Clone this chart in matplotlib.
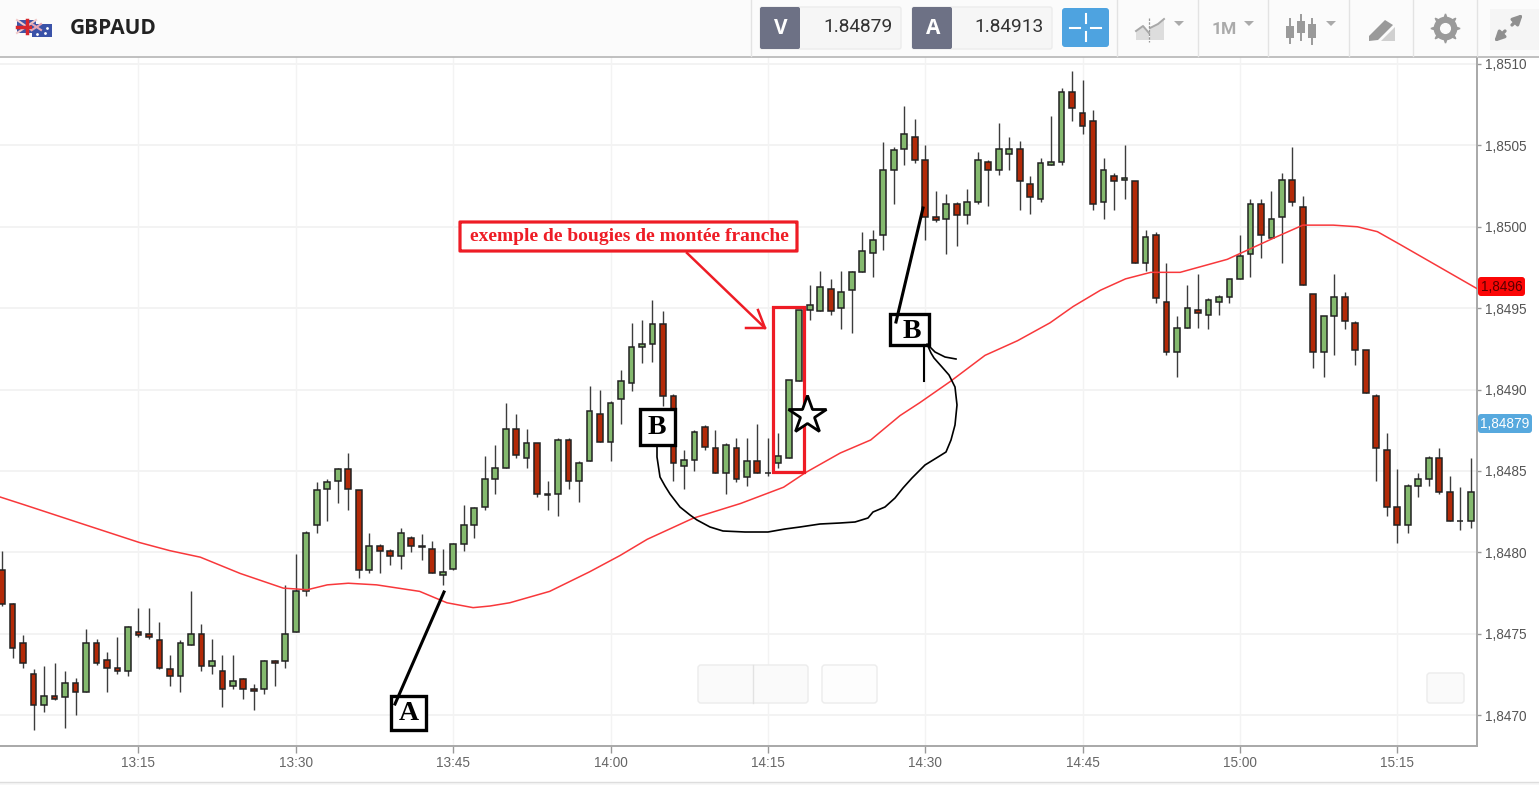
import matplotlib
matplotlib.use("Agg")
import matplotlib.pyplot as plt
from matplotlib.patches import Rectangle, FancyBboxPatch, Polygon

# one candle per minute, first one is 13:02
start_minute = 13 * 60 + 2

opens = [
    1.84789, 1.84768, 1.84744, 1.84725, 1.84706, 1.84712, 1.84711, 1.84720, 1.84714, 1.84744,
    1.84734, 1.84729, 1.84727, 1.84751, 1.84750, 1.84746, 1.84728, 1.84724, 1.84743, 1.84750,
    1.84730, 1.84727, 1.84718, 1.84722, 1.84716, 1.84716, 1.84733, 1.84733, 1.84751, 1.84776,
    1.84817, 1.84839, 1.84844, 1.84851, 1.84838, 1.84789, 1.84804, 1.84801, 1.84798, 1.84809,
    1.84804, 1.84802, 1.84786, 1.84790, 1.84805, 1.84817, 1.84828, 1.84845, 1.84852, 1.84876,
    1.84858, 1.84867, 1.84835, 1.84836, 1.84869, 1.84844, 1.84856, 1.84885, 1.84868, 1.84894,
    1.84904, 1.84926, 1.84928, 1.84940, 1.84896, 1.84853, 1.84857, 1.84877, 1.84864, 1.84849,
    1.84864, 1.84846, 1.84856, 1.84849, 1.84855, 1.84858, 1.84905, 1.84949, 1.84948, 1.84962,
    1.84950, 1.84961, 1.84972, 1.84984, 1.84995, 1.85035, 1.85048, 1.85055, 1.85041, 1.85006,
    1.85005, 1.85014, 1.85007, 1.85015, 1.85040, 1.85035, 1.85045, 1.85048, 1.85026, 1.85017,
    1.85038, 1.85040, 1.85083, 1.85070, 1.85065, 1.85015, 1.85031, 1.85029, 1.85028, 1.84978,
    1.84995, 1.84954, 1.84923, 1.84938, 1.84949, 1.84946, 1.84954, 1.84957, 1.84968, 1.84983,
    1.85014, 1.84993, 1.85006, 1.85029, 1.85012, 1.84959, 1.84923, 1.84945, 1.84957, 1.84941,
    1.84924, 1.84896, 1.84863, 1.84828, 1.84817, 1.84841, 1.84845, 1.84858, 1.84837, 1.84819,
    1.84819,
]
highs = [
    1.84801, 1.84769, 1.84749, 1.84728, 1.84730, 1.84732, 1.84727, 1.84723, 1.84753, 1.84747,
    1.84739, 1.84748, 1.84755, 1.84766, 1.84766, 1.84757, 1.84737, 1.84746, 1.84776, 1.84756,
    1.84747, 1.84737, 1.84737, 1.84723, 1.84719, 1.84734, 1.84734, 1.84780, 1.84799, 1.84813,
    1.84843, 1.84845, 1.84852, 1.84861, 1.84838, 1.84812, 1.84805, 1.84802, 1.84815, 1.84810,
    1.84811, 1.84807, 1.84802, 1.84806, 1.84829, 1.84828, 1.84859, 1.84866, 1.84892, 1.84885,
    1.84876, 1.84867, 1.84844, 1.84870, 1.84870, 1.84856, 1.84902, 1.84900, 1.84893, 1.84912,
    1.84941, 1.84943, 1.84955, 1.84948, 1.84897, 1.84863, 1.84875, 1.84878, 1.84875, 1.84867,
    1.84870, 1.84870, 1.84879, 1.84870, 1.84873, 1.84906, 1.84949, 1.84964, 1.84973, 1.84968,
    1.84973, 1.84973, 1.84997, 1.84998, 1.85052, 1.85049, 1.85074, 1.85066, 1.85050, 1.85022,
    1.85020, 1.85015, 1.85023, 1.85046, 1.85041, 1.85064, 1.85055, 1.85053, 1.85031, 1.85042,
    1.85068, 1.85085, 1.85096, 1.85090, 1.85072, 1.85042, 1.85033, 1.85050, 1.85028, 1.84998,
    1.84997, 1.84978, 1.84945, 1.84964, 1.84971, 1.84956, 1.84958, 1.84968, 1.84995, 1.85017,
    1.85017, 1.85022, 1.85033, 1.85049, 1.85019, 1.84959, 1.84945, 1.84971, 1.84960, 1.84942,
    1.84924, 1.84897, 1.84873, 1.84851, 1.84842, 1.84849, 1.84859, 1.84864, 1.84847, 1.84840,
    1.84858,
]
lows = [
    1.84767, 1.84735, 1.84729, 1.84691, 1.84702, 1.84709, 1.84692, 1.84700, 1.84714, 1.84731,
    1.84714, 1.84725, 1.84724, 1.84748, 1.84747, 1.84728, 1.84718, 1.84714, 1.84743, 1.84727,
    1.84725, 1.84705, 1.84716, 1.84710, 1.84703, 1.84713, 1.84718, 1.84729, 1.84751, 1.84773,
    1.84812, 1.84819, 1.84830, 1.84826, 1.84784, 1.84787, 1.84787, 1.84792, 1.84790, 1.84800,
    1.84795, 1.84787, 1.84780, 1.84789, 1.84801, 1.84809, 1.84826, 1.84836, 1.84852, 1.84858,
    1.84852, 1.84834, 1.84826, 1.84822, 1.84839, 1.84831, 1.84856, 1.84868, 1.84856, 1.84879,
    1.84899, 1.84916, 1.84917, 1.84890, 1.84844, 1.84839, 1.84850, 1.84863, 1.84849, 1.84836,
    1.84843, 1.84841, 1.84849, 1.84847, 1.84852, 1.84858, 1.84905, 1.84943, 1.84948, 1.84946,
    1.84937, 1.84935, 1.84972, 1.84969, 1.84986, 1.85014, 1.85038, 1.85039, 1.84992, 1.85003,
    1.84983, 1.84988, 1.85002, 1.85014, 1.85013, 1.85032, 1.85035, 1.85010, 1.85008, 1.85015,
    1.85038, 1.85038, 1.85065, 1.85057, 1.85010, 1.85005, 1.85010, 1.85017, 1.84978, 1.84973,
    1.84953, 1.84921, 1.84908, 1.84938, 1.84938, 1.84937, 1.84946, 1.84953, 1.84968, 1.84969,
    1.84981, 1.84993, 1.84978, 1.85013, 1.84964, 1.84913, 1.84908, 1.84921, 1.84937, 1.84915,
    1.84898, 1.84844, 1.84822, 1.84806, 1.84812, 1.84834, 1.84841, 1.84836, 1.84819, 1.84814,
    1.84815,
]
closes = [
    1.84768, 1.84741, 1.84732, 1.84706, 1.84712, 1.84710, 1.84720, 1.84714, 1.84744, 1.84732,
    1.84729, 1.84727, 1.84754, 1.84749, 1.84748, 1.84729, 1.84724, 1.84744, 1.84750, 1.84730,
    1.84733, 1.84716, 1.84721, 1.84716, 1.84715, 1.84733, 1.84732, 1.84750, 1.84776, 1.84812,
    1.84838, 1.84843, 1.84851, 1.84839, 1.84789, 1.84804, 1.84801, 1.84798, 1.84812, 1.84804,
    1.84803, 1.84787, 1.84788, 1.84805, 1.84817, 1.84827, 1.84845, 1.84852, 1.84876, 1.84860,
    1.84867, 1.84836, 1.84836, 1.84869, 1.84844, 1.84855, 1.84887, 1.84868, 1.84892, 1.84905,
    1.84926, 1.84928, 1.84940, 1.84896, 1.84855, 1.84857, 1.84874, 1.84865, 1.84849, 1.84866,
    1.84845, 1.84856, 1.84849, 1.84849, 1.84859, 1.84906, 1.84949, 1.84952, 1.84963, 1.84948,
    1.84960, 1.84972, 1.84985, 1.84992, 1.85035, 1.85047, 1.85057, 1.85041, 1.85006, 1.85004,
    1.85014, 1.85007, 1.85015, 1.85041, 1.85035, 1.85048, 1.85048, 1.85028, 1.85018, 1.85039,
    1.85040, 1.85083, 1.85073, 1.85062, 1.85014, 1.85035, 1.85028, 1.85030, 1.84978, 1.84994,
    1.84956, 1.84923, 1.84938, 1.84950, 1.84947, 1.84955, 1.84957, 1.84968, 1.84982, 1.85014,
    1.84995, 1.85005, 1.85029, 1.85015, 1.84964, 1.84923, 1.84945, 1.84957, 1.84942, 1.84924,
    1.84898, 1.84864, 1.84828, 1.84817, 1.84841, 1.84845, 1.84858, 1.84837, 1.84819, 1.84819,
    1.84837,
]

# moving average, read at its bends
ma_minutes = [
    781.8, 784.2, 789.4, 795.1, 798.0, 800.9, 804.7, 808.8, 811.1, 813.0, 815.0, 817.7, 821.8, 824.4,
    826.9, 828.5, 830.4, 834.2, 838.0, 840.9, 843.5, 847.9, 852.4, 856.5, 858.6, 861.9, 864.8, 867.6,
    869.5, 872.4, 875.7, 878.8, 881.9, 884.1, 886.7, 889.1, 891.5, 894.3, 898.8, 903.2, 906.0, 908.9,
    911.2, 913.1, 915.3, 922.6,
]
ma_values = [
    1.84834, 1.84829, 1.84818, 1.84806, 1.84801, 1.84797, 1.84787, 1.84778, 1.84777, 1.84780, 1.84781,
    1.84780, 1.84776, 1.84769, 1.84766, 1.84767, 1.84769, 1.84776, 1.84788, 1.84798, 1.84808, 1.84821,
    1.84830, 1.84840, 1.84849, 1.84861, 1.84869, 1.84884, 1.84892, 1.84905, 1.84921, 1.84930, 1.84941,
    1.84951, 1.84961, 1.84968, 1.84972, 1.84972, 1.84980, 1.84993, 1.85001, 1.85001, 1.85000, 1.84997,
    1.84989, 1.84962,
]

price_ticks = [1.8470, 1.8475, 1.8480, 1.8485, 1.8490, 1.8495, 1.8500, 1.8505, 1.8510]
time_ticks = [795, 810, 825, 840, 855, 870, 885, 900, 915]
time_labels = ["13:15", "13:30", "13:45", "14:00", "14:15", "14:30", "14:45", "15:00", "15:15"]

UP = "#84b96e"
DOWN = "#b32a08"
EDGE = "#222222"
W, H = 1539, 785

plt.rcParams["font.family"] = ["Liberation Sans", "DejaVu Sans"]
fig = plt.figure(figsize=(W / 100, H / 100), dpi=100, facecolor="white")

ax = fig.add_axes([0, (H - 746) / H, 1477 / W, (746 - 57) / H])
ax.set_xlim(781.8, 922.6)
ax.set_ylim(1.84681, 1.851043)

minutes = [start_minute + i for i in range(len(opens))]
ax.vlines(minutes, lows, highs, color="#3c3c3c", lw=1.0, zorder=2)
for m, o, c in zip(minutes, opens, closes):
    col = UP if c >= o else DOWN
    ax.bar(m, abs(c - o), bottom=min(o, c), width=0.55, color=col, edgecolor=EDGE, linewidth=1.1, zorder=3)
ax.plot(ma_minutes, ma_values, color="#f8383b", lw=1.1, zorder=4)

ax.set_yticks(price_ticks)
ax.set_yticklabels([("%.4f" % p).replace(".", ",") for p in price_ticks])
ax.set_xticks(time_ticks)
ax.set_xticklabels(time_labels)
ax.yaxis.tick_right()
ax.tick_params(axis="y", length=3, width=1, color="#999999", labelcolor="#555555", labelsize=9.8, pad=3)
ax.tick_params(axis="x", length=5, width=1, color="#999999", labelcolor="#666666", labelsize=9.8, pad=2)
ax.grid(axis="y", color="#f3f3f3", lw=1.4)
ax.grid(axis="x", color="#f3f3f3", lw=1.0)
ax.set_axisbelow(True)
for side in ["top", "left"]:
    ax.spines[side].set_visible(False)
for side in ["right", "bottom"]:
    ax.spines[side].set_color("#a8a8a8")
    ax.spines[side].set_linewidth(1.4)

# toolbar and drawings go on a second axes in pixel units
top = fig.add_axes([0, 0, 1, 1], zorder=5)
top.set_xlim(0, W)
top.set_ylim(H, 0)
top.axis("off")
top.patch.set_alpha(0)


def box(x0, y0, x1, y1, fc, ec="none", r=2, lw=1, z=2):
    top.add_patch(FancyBboxPatch((x0 + r, y0 + r), x1 - x0 - 2 * r, y1 - y0 - 2 * r,
                                 boxstyle="round,pad=%f,rounding_size=%f" % (r, r),
                                 fc=fc, ec=ec, lw=lw, zorder=z))


# header
top.add_patch(Rectangle((0, 0), W, 56, fc="#fbfbfb", ec="none", zorder=1))
top.plot([0, W], [56.5, 56.5], color="#b5b5b5", lw=1.2, zorder=2)
for x in [751, 1117, 1198, 1268, 1349, 1413, 1477]:
    top.plot([x, x], [0, 56], color="#e3e3e3", lw=1, zorder=2)

# flags
top.add_patch(Rectangle((17, 20), 19, 13, fc="#3f54a6", ec="none", zorder=3))
top.plot([17, 36], [20, 33], color="#f2c9c9", lw=1.5, zorder=3)
top.plot([17, 36], [33, 20], color="#f2c9c9", lw=1.5, zorder=3)
top.plot([26.5, 26.5], [20, 33], color="#d8262c", lw=2.5, zorder=3)
top.plot([17, 36], [26.5, 26.5], color="#d8262c", lw=2.5, zorder=3)
top.add_patch(Rectangle((32, 24), 20, 13, fc="#3a52a8", ec="none", zorder=4))
top.plot([32, 41], [24, 30], color="#e7a6b4", lw=1.5, zorder=4)
top.plot([32, 41], [30, 24], color="#e7a6b4", lw=1.5, zorder=4)
top.plot([37, 47, 45], [34, 28, 33], ls="none", marker=".", ms=2, color="white", zorder=4)
top.text(70, 28, "GBPAUD", family="Open Sans", weight="bold", fontsize=15, color="#222222",
         va="center", ha="left", zorder=3)

# bid / ask
box(760, 7, 901, 49, "#f6f6f6", "#ececec")
box(760, 7, 800, 49, "#6d7185")
top.text(781, 28, "V", color="white", fontsize=15, weight="bold", family="Open Sans", ha="center", va="center", zorder=3)
top.text(893, 27, "1.84879", color="#333333", fontsize=13.8, family="Roboto", ha="right", va="center", zorder=3)
box(912, 7, 1052, 49, "#f6f6f6", "#ececec")
box(912, 7, 952, 49, "#6d7185")
top.text(933, 28, "A", color="white", fontsize=15, weight="bold", family="Open Sans", ha="center", va="center", zorder=3)
top.text(1044, 27, "1.84913", color="#333333", fontsize=13.8, family="Roboto", ha="right", va="center", zorder=3)

# crosshair button
box(1062, 8, 1109, 47, "#4ea3e0", r=3)
for seg in [((1085.5, 1085.5), (14, 23)), ((1085.5, 1085.5), (32, 41)),
            ((1070, 1080), (27.5, 27.5)), ((1091, 1101), (27.5, 27.5))]:
    top.plot(seg[0], seg[1], color="white", lw=1.5, zorder=3)

# chart type icon
top.add_patch(Polygon([(1136, 40), (1136, 31), (1143, 26), (1149, 33), (1149, 40)], fc="#dddddd", ec="none", zorder=3))
top.add_patch(Polygon([(1150, 40), (1150, 28), (1158, 24), (1164, 19), (1164, 40)], fc="#dddddd", ec="none", zorder=3))
top.plot([1136, 1143, 1149], [31, 26, 33], color="#a8a8a8", lw=1.4, zorder=4)
top.plot([1150, 1158, 1164], [28, 24, 19], color="#a8a8a8", lw=1.4, zorder=4)
top.plot([1149, 1149], [18, 42], color="#999999", lw=0.9, ls=(0, (2, 1)), zorder=4)


def caret(x, y=24):
    top.add_patch(Polygon([(x - 5, y - 3), (x + 5, y - 3), (x, y + 2)], fc="#aaaaaa", ec="none", zorder=3))


caret(1179)
top.text(1212, 29, "1M", color="#aaaaaa", fontsize=12.5, family="Roboto", weight="bold", ha="left", va="center", zorder=3)
caret(1249)

# candle icon
for x, y0, y1, b0, b1 in [(1290, 19, 43, 26, 38), (1301, 15, 40, 21, 33), (1312, 19, 44, 24, 38)]:
    top.plot([x, x], [y0, y1], color="#9a9a9a", lw=1.4, zorder=3)
    top.add_patch(Rectangle((x - 4, b0), 8, b1 - b0, fc="#9a9a9a", ec="none", zorder=3))
caret(1331)

# pencil icon
top.add_patch(Polygon([(1369, 36), (1385, 20), (1393, 25), (1378, 40), (1369, 41)], fc="#9a9a9a", ec="none", zorder=3))
top.add_patch(Polygon([(1381, 41), (1395, 27), (1395, 41)], fc="#d0d0d0", ec="none", zorder=3))

# gear icon
top.plot([1445], [28], marker=(8, 1, 0), ms=21, color="#9a9a9a", zorder=3)
top.plot([1445], [28], marker="o", ms=16, color="#9a9a9a", zorder=3)
top.plot([1445], [28], marker="o", ms=7, color="#fbfbfb", zorder=4)

# expand icon
top.add_patch(Rectangle((1490, 9), 49, 41, fc="#f5f5f5", ec="none", zorder=2))
top.annotate("", xy=(1523, 14), xytext=(1512, 25), zorder=3,
             arrowprops=dict(arrowstyle="-|>", color="#8f8f8f", lw=2.4, mutation_scale=14, shrinkA=0, shrinkB=0))
top.annotate("", xy=(1494, 42), xytext=(1505, 31), zorder=3,
             arrowprops=dict(arrowstyle="-|>", color="#8f8f8f", lw=2.4, mutation_scale=14, shrinkA=0, shrinkB=0))

# price tags on the axis
box(1478, 277, 1525, 296, "#fb0606", r=3)
top.text(1501.5, 287, "1,8496", color="#5a0000", fontsize=9.8, ha="center", va="center", zorder=3)
box(1478, 414, 1532, 433, "#57a9de", r=3)
top.text(1505, 424, "1,84879", color="white", fontsize=9.8, ha="center", va="center", zorder=3)

# chart buttons
box(698, 665, 808, 703, "#fafafa", "#ececec", r=3)
top.plot([752.5, 752.5], [665, 703], color="#e2e2e2", lw=1, zorder=3)
box(822, 665, 877, 703, "#fdfdfd", "#ececec", r=3)
box(1427, 673, 1464, 703, "#fafafa", "#ececec", r=3)

# footer
top.add_patch(Rectangle((0, 782), W, 3, fc="#f7f7f7", ec="none", zorder=1))
top.plot([0, W], [782, 782], color="#dddddd", lw=1, zorder=2)

# hand drawn notes
SERIF = "Liberation Serif"
for x0, y0, x1, y1, letter, lx, ly in [(391, 696, 426, 730, "A", 408.5, 714),
                                       (640, 409, 675, 445, "B", 657, 428),
                                       (890, 314, 929, 345, "B", 912, 331)]:
    top.add_patch(Rectangle((x0, y0), x1 - x0, y1 - y0, fc="white", ec="black", lw=2.4, zorder=6))
    top.text(lx, ly, letter, family=SERIF, weight="bold", fontsize=20, color="black", ha="center", va="center", zorder=7)

top.plot([395, 444], [704, 592], color="black", lw=2.2, zorder=8)
top.plot([896, 923], [322, 208], color="black", lw=2.2, zorder=8)
top.plot([924, 924], [345, 381], color="black", lw=1.5, zorder=6)

curve_x = [657, 657, 660, 665, 670, 680, 690, 697, 710, 723, 745, 768, 785, 800, 820, 840, 855, 868, 873, 885,
           895, 903, 912, 925, 938, 946, 951, 955, 957, 955, 949, 942, 934, 931, 927, 935, 945, 956]
curve_y = [446, 457, 477, 486, 494, 507, 515, 520, 527, 531, 532, 532, 529, 527, 524, 523, 522, 518, 512, 507,
           498, 488, 478, 465, 457, 452, 440, 425, 405, 387, 375, 367, 358, 353, 344, 352, 357, 359]
top.plot(curve_x, curve_y, color="black", lw=1.2, zorder=6)

top.add_patch(Rectangle((773, 307), 31, 165, fc="none", ec="#ee1c25", lw=2.3, zorder=6))
top.plot([807], [415], marker="*", ms=29, mfc="white", mec="black", mew=2, zorder=7)

box(460, 222, 797, 251, "white", "#ee1c25", r=0.1, lw=2.3, z=6)
top.text(629, 236.5, "exemple de bougies de montée franche", family=SERIF, weight="bold", fontsize=14,
         color="#ee1c25", ha="center", va="center", zorder=7)
top.plot([687, 765], [253, 328], color="#ee1c25", lw=1.8, zorder=6)
top.plot([758, 765, 746], [310, 328, 328], color="#ee1c25", lw=1.8, zorder=6)

fig.savefig("out.png", dpi=100)
